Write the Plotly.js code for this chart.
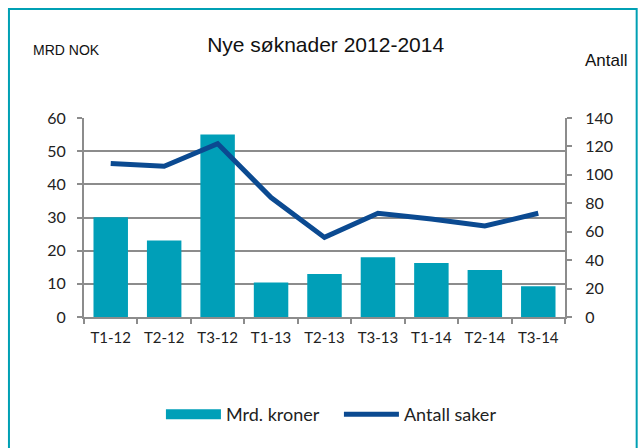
<!DOCTYPE html>
<html>
<head>
<meta charset="utf-8">
<script src="https://cdn.plot.ly/plotly-3.0.1.min.js"></script>
<style>
html,body{margin:0;padding:0;background:#fff;}
#chart{width:641px;height:448px;}
</style>
</head>
<body>
<div id="chart"></div>
<script>
const categories = ["T1-12","T2-12","T3-12","T1-13","T2-13","T3-13","T1-14","T2-14","T3-14"];
const mrdKroner = [30.1, 23.1, 55.0, 10.4, 13.0, 18.0, 16.3, 14.2, 9.3];
const antallSaker = [108, 106, 122, 84, 56, 73, 69, 64, 73];
const leftTicks = [0,10,20,30,40,50,60];
const rightTicks = [0,20,40,60,80,100,120,140];

const teal = "#009FB8";
const navy = "#0B4A91";
const grid = "#8C8C8C";
const fontFam = "Lato, 'Open Sans', sans-serif";
const plain = "'Liberation Sans', Arial, sans-serif";

const traces = [
  {
    type: "bar", x: categories, y: mrdKroner, name: "Mrd. kroner",
    marker: {color: teal}, showlegend: false, yaxis: "y"
  },
  {
    type: "scatter", mode: "lines", x: categories, y: categories.map(() => null),
    name: "Mrd. kroner", line: {color: teal, width: 11}, yaxis: "y", hoverinfo: "skip"
  },
  {
    type: "scatter", mode: "lines", x: categories, y: antallSaker, name: "Antall saker",
    line: {color: navy, width: 5}, yaxis: "y2"
  }
];

const layout = {
  width: 641, height: 448,
  margin: {l: 84, r: 76, t: 118, b: 131},
  paper_bgcolor: "#fff", plot_bgcolor: "#fff",
  font: {family: fontFam, size: 15, color: "#222"},
  title: {text: "Nye søknader 2012-2014", x: 0.508, xanchor: "center", y: 0.9, yanchor: "middle",
          font: {family: plain, size: 21, color: "#111"}},
  bargap: 0.355,
  xaxis: {
    type: "category", showgrid: false, showline: true, linecolor: grid, linewidth: 2,
    ticks: "outside", tickson: "boundaries", ticklen: 5, tickcolor: grid, tickwidth: 2,
    ticklabelstandoff: 6,
    tickfont: {family: fontFam, size: 15, color: "#222"}, fixedrange: true
  },
  yaxis: {
    range: [0, 60], tickvals: leftTicks, showgrid: true, gridcolor: grid, gridwidth: 2,
    showline: true, linecolor: grid, linewidth: 2, ticks: "outside", ticklen: 5,
    tickcolor: grid, tickwidth: 2, zeroline: false, ticklabelstandoff: 8,
    tickfont: {family: fontFam, size: 16, color: "#222"}, fixedrange: true
  },
  yaxis2: {
    range: [0, 140], tickvals: rightTicks, overlaying: "y", side: "right", showgrid: false,
    showline: true, linecolor: grid, linewidth: 2, ticks: "outside", ticklen: 5,
    tickcolor: grid, tickwidth: 2, zeroline: false, ticklabelstandoff: 10,
    tickfont: {family: fontFam, size: 16, color: "#222"}, fixedrange: true
  },
  legend: {
    orientation: "h", x: 0.53, xanchor: "center", y: -0.49, yanchor: "middle",
    itemwidth: 55, entrywidth: 108, font: {family: fontFam, size: 18, color: "#222"}, traceorder: "normal"
  },
  annotations: [
    {text: "MRD NOK", xref: "paper", yref: "paper", x: 0.037, y: 1.34, xanchor: "right", yanchor: "middle",
     showarrow: false, font: {family: plain, size: 14, color: "#111"}},
    {text: "Antall", xref: "paper", yref: "paper", x: 1.087, y: 1.29, xanchor: "center", yanchor: "middle",
     showarrow: false, font: {family: plain, size: 17, color: "#111"}}
  ],
  shapes: [
    {type: "rect", xref: "paper", yref: "paper", x0: -0.156, x1: 1.149, y0: -0.75, y1: 1.548,
     line: {color: "#00A0B4", width: 2}, fillcolor: "rgba(0,0,0,0)", layer: "below"}
  ],
  showlegend: true
};

Plotly.newPlot("chart", traces, layout, {displayModeBar: false, staticPlot: true});
</script>
</body>
</html>
